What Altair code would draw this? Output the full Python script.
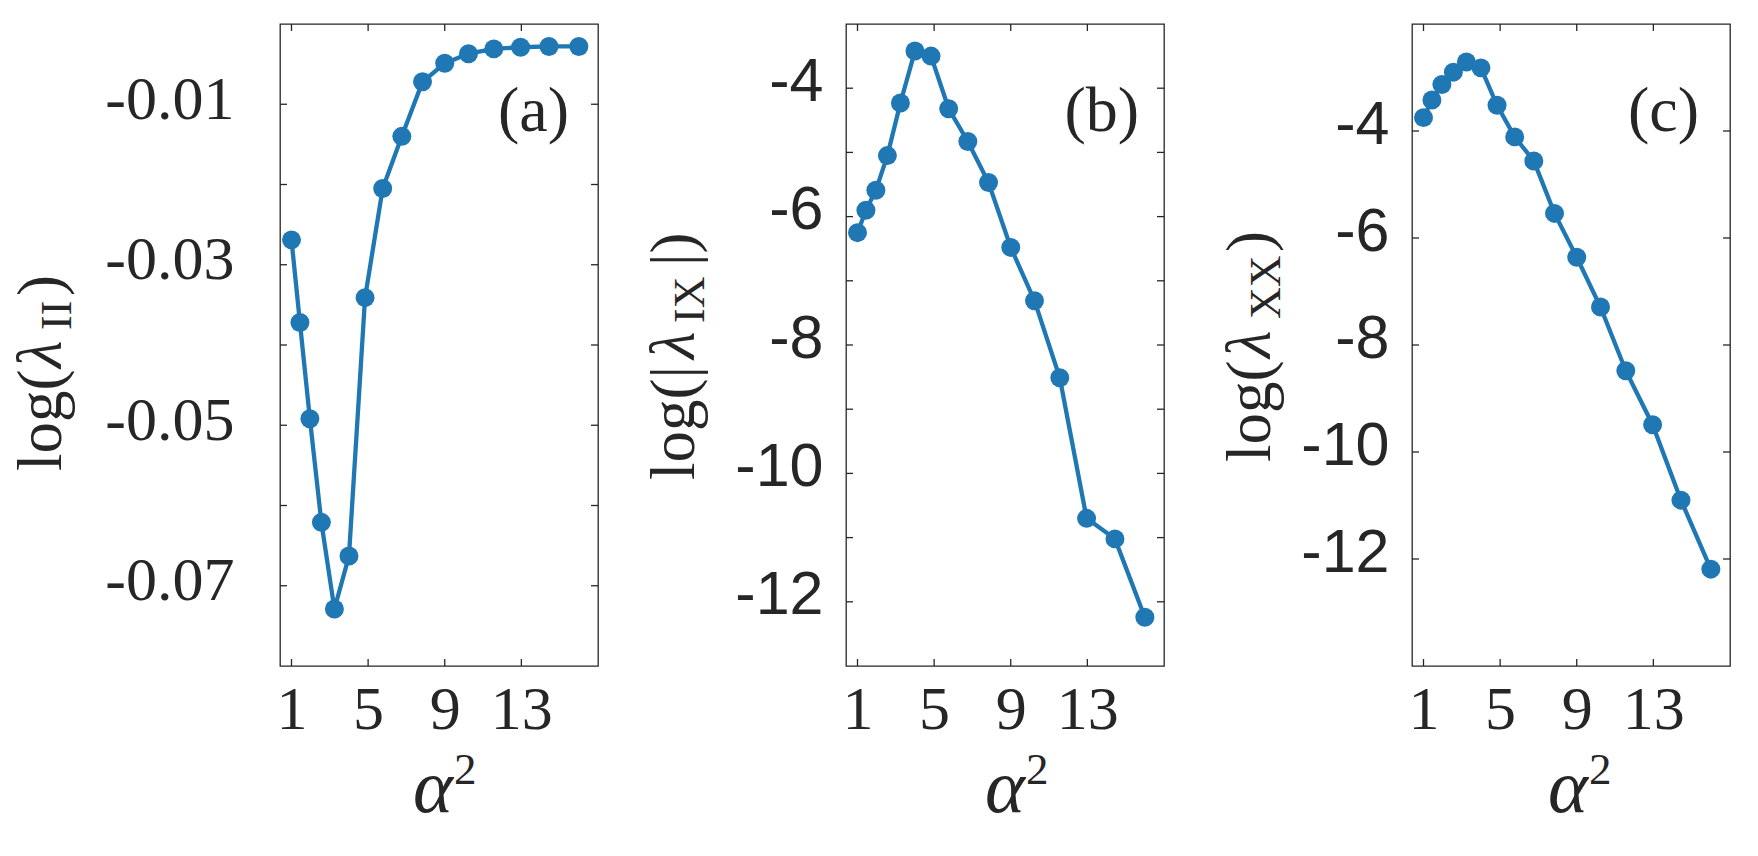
import altair as alt
import pandas as pd

# ---- data ----
alpha_sq = [1.0, 1.44, 1.96, 2.56, 3.24, 4.0, 4.84, 5.76, 6.76, 7.84, 9.0, 10.24, 11.56, 12.96, 14.44, 16.0]
log_lambda_II = [-0.0269, -0.0372, -0.0492, -0.0621, -0.0729, -0.0663, -0.0341, -0.0205,
                 -0.0140, -0.0072, -0.0049, -0.0037, -0.0031, -0.0029, -0.0028, -0.0028]
log_abs_lambda_IX = [-6.25, -5.90, -5.59, -5.05, -4.23, -3.42, -3.50, -4.32,
                     -4.83, -5.47, -6.48, -7.31, -8.51, -10.70, -11.02, -12.24]
log_lambda_XX = [-3.75, -3.42, -3.13, -2.90, -2.71, -2.82, -3.52, -4.11,
                 -4.56, -5.54, -6.36, -7.29, -8.48, -9.49, -10.90, -12.19]

x_ticks = [1, 5, 9, 13]
x_domain = [0.4, 17]

y_domain_a = [-0.08, 0.0]
y_ticks_a = [-0.07, -0.06, -0.05, -0.04, -0.03, -0.02, -0.01]
y_labels_a = [-0.07, -0.05, -0.03, -0.01]

y_domain_b = [-13, -3]
y_ticks_b = [-12, -11, -10, -9, -8, -7, -6, -5, -4]
y_labels_b = [-12, -10, -8, -6, -4]

y_domain_c = [-14, -2]
y_ticks_c = [-12, -10, -8, -6, -4]
y_labels_c = [-12, -10, -8, -6, -4]

# ---- style ----
W, H = 318, 642
BLUE = "#1f77b4"
DARK = "#262626"
SERIF = "Liberation Serif"
SANS = "Liberation Sans"
TICK = 7


def text_piece(txt, x, y, size, angle=0, italic=False, align="left", font=SERIF):
    kw = dict(align=align, baseline="alphabetic", font=font, fontSize=size, color=DARK)
    if angle:
        kw["angle"] = angle
    if italic:
        kw["fontStyle"] = "italic"
    return alt.Chart(pd.DataFrame({"label": [txt]})).mark_text(**kw).encode(
        text="label:N", x=alt.value(x), y=alt.value(y)
    )


def panel(yvals, ydomain, yticks, ylabels, fmt, yfont, yfsize, ypad, yoff,
          title_pieces, tag, tag_x, alpha_x, sup_x):
    xs = alt.Scale(domain=x_domain, nice=False, zero=False)
    ys = alt.Scale(domain=ydomain, nice=False, zero=False)
    xaxis = alt.Axis(values=x_ticks, ticks=False, domain=False, grid=False, title=None,
                     labelFont=SERIF, labelFontSize=62, labelColor=DARK, labelPadding=13,
                     labelFlush=False, labelOverlap=False)
    yaxis = alt.Axis(values=ylabels, ticks=False, domain=False, grid=False, title=None,
                     labelExpr="'-' + format(-datum.value, '%s')" % fmt,
                     labelFont=yfont, labelFontSize=yfsize, labelColor=DARK,
                     labelPadding=ypad, labelOffset=yoff, labelFlush=False, labelOverlap=False)

    df = pd.DataFrame({"x": alpha_sq, "y": yvals})
    line = alt.Chart(df).mark_line(color=BLUE, strokeWidth=4.3).encode(
        x=alt.X("x:Q", scale=xs, axis=xaxis), y=alt.Y("y:Q", scale=ys, axis=yaxis))
    pts = alt.Chart(df).mark_circle(color=BLUE, size=360, opacity=1).encode(
        x=alt.X("x:Q", scale=xs, axis=xaxis), y=alt.Y("y:Q", scale=ys, axis=yaxis))

    ydf = pd.DataFrame({"y": yticks})
    xdf = pd.DataFrame({"x": x_ticks})
    rule = dict(color=DARK, strokeWidth=1.3)
    yl = alt.Chart(ydf).mark_rule(**rule).encode(
        y=alt.Y("y:Q", scale=ys, axis=yaxis), x=alt.value(0), x2=alt.value(TICK))
    yr = alt.Chart(ydf).mark_rule(**rule).encode(
        y=alt.Y("y:Q", scale=ys, axis=yaxis), x=alt.value(W - TICK), x2=alt.value(W))
    xb = alt.Chart(xdf).mark_rule(**rule).encode(
        x=alt.X("x:Q", scale=xs, axis=xaxis), y=alt.value(H - TICK), y2=alt.value(H))
    xt = alt.Chart(xdf).mark_rule(**rule).encode(
        x=alt.X("x:Q", scale=xs, axis=xaxis), y=alt.value(0), y2=alt.value(TICK))

    layers = [yl, yr, xb, xt, line, pts]
    for (txt, bx, sy, size, italic) in title_pieces:
        layers.append(text_piece(txt, bx, sy, size, angle=270, italic=italic))
    layers.append(text_piece(tag, tag_x, 107, 64, align="right"))
    layers.append(text_piece("α", alpha_x, 788, 76, italic=True, align="center"))
    layers.append(text_piece("2", sup_x, 760, 45))
    return alt.layer(*layers).properties(width=W, height=H)


pa = panel(log_lambda_II, y_domain_a, y_ticks_a, y_labels_a, ".2f", SERIF, 62, 46, -5,
           [("log(", -219, 447, 63, False), ("λ", -219, 344, 63, True),
            ("II", -209, 306, 44, False), (")", -219, 272, 63, False)],
           "(a)", 289, 153, 174)
pb = panel(log_abs_lambda_IX, y_domain_b, y_ticks_b, y_labels_b, "d", SANS, 61, 23, -6,
           [("log(|", -152, 456, 63, False), ("λ", -152, 335, 63, True),
            ("IX", -142, 299, 44, False), ("|)", -152, 242, 63, False)],
           "(b)", 293, 159, 180)
pc = panel(log_lambda_XX, y_domain_c, y_ticks_c, y_labels_c, "d", SANS, 61, 23, -6,
           [("log(", -142, 438, 63, False), ("λ", -142, 334, 63, True),
            ("XX", -132, 295, 44, False), (")", -142, 228, 63, False)],
           "(c)", 287, 156, 177)

chart = alt.hconcat(pa, pb, pc, spacing=248, bounds="flush").properties(
    padding={"left": 10, "top": 22, "right": 5, "bottom": 5},
    background="white",
).configure_view(stroke=DARK, strokeWidth=1.3)

chart.save("out.html", embed_options={"renderer": "svg", "actions": False})
